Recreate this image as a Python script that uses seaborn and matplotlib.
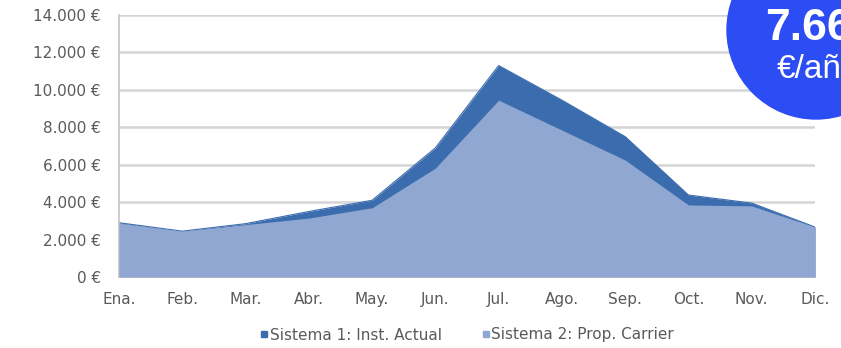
import numpy as np
import pandas as pd
import seaborn as sns
import matplotlib.pyplot as plt
from matplotlib.lines import Line2D
from matplotlib.patches import Circle

sns.set_style('white')
plt.rcParams['font.family'] = ['DejaVu Sans']

months = ['Ena.', 'Feb.', 'Mar.', 'Abr.', 'May.', 'Jun.', 'Jul.', 'Ago.', 'Sep.', 'Oct.', 'Nov.', 'Dic.']
sistema_1 = [2900, 2450, 2850, 3500, 4100, 6900, 11300, 9450, 7500, 4380, 3950, 2670]
sistema_2 = [2880, 2450, 2800, 3150, 3700, 5820, 9450, 7850, 6250, 3850, 3800, 2670]
series_names = ['Sistema 1: Inst. Actual', 'Sistema 2: Prop. Carrier']
y_ticks = [0, 2000, 4000, 6000, 8000, 10000, 12000, 14000]
badge_value = '7.66'
badge_unit = '€/año'

DARK = '#3b6cae'
LIGHT = '#8fa7d1'
TEXT = '#5a5a5a'
GRID = '#d4d4d4'

df = pd.DataFrame({'Mes': months, 'S1': sistema_1, 'S2': sistema_2})
x = np.arange(len(df))

fig = plt.figure(figsize=(8.41, 3.48), dpi=100)
ax = fig.add_axes([119 / 841, 1 - 277 / 348, (815 - 119) / 841, (277 - 15) / 348])

ax.fill_between(x, 0, df['S1'], color=DARK, linewidth=0, zorder=2)
ax.fill_between(x, 0, df['S2'], color=LIGHT, linewidth=0, zorder=3)
sns.lineplot(x=x, y=df['S1'], ax=ax, color=DARK, linewidth=0.8, zorder=2)

ax.set_xlim(0, len(df) - 1)
ax.set_ylim(0, 14000)
ax.set_yticks(y_ticks)
ax.set_yticklabels([f'{v:,.0f} €'.replace(',', '.') for v in y_ticks])
ax.set_xticks(x)
ax.set_xticklabels(df['Mes'])
ax.yaxis.grid(True, color=GRID, linewidth=1.8, zorder=1)
ax.set_axisbelow(True)
ax.set_xlabel('')
ax.set_ylabel('')

for side in ['top', 'right']:
    ax.spines[side].set_visible(False)
for side in ['left', 'bottom']:
    ax.spines[side].set_color('#c4c4c4')
    ax.spines[side].set_linewidth(1.2)

ax.tick_params(axis='y', length=3, width=1.5, color='#c4c4c4', labelsize=11, labelcolor=TEXT, pad=10)
ax.tick_params(axis='x', length=3, width=1.2, color='#dddddd', labelsize=11, labelcolor=TEXT, pad=8)

handles = [Line2D([], [], marker='s', linestyle='', markersize=5, color=DARK),
           Line2D([], [], marker='s', linestyle='', markersize=5, color=LIGHT)]
fig.legend(handles, series_names, loc='center', bbox_to_anchor=(467 / 841, 1 - 335 / 348),
           ncol=2, frameon=False, fontsize=11, labelcolor=TEXT, handletextpad=0.05,
           columnspacing=2.6, handlelength=0.6)

# badge in the top-right corner, partly cut off by the edge like in the source
badge = Circle((8.16, 3.48 - 0.30), 0.89, transform=fig.dpi_scale_trans,
               color='#2c4cf4', zorder=10, clip_on=False)
fig.add_artist(badge)
fig.text(765 / 841, 1 - 40 / 348, badge_value, color='white', fontsize=32, fontweight='bold',
         family='Liberation Sans', ha='left', va='baseline', zorder=11)
fig.text(777 / 841, 1 - 78 / 348, badge_unit, color='white', fontsize=24,
         family='Liberation Sans', ha='left', va='baseline', zorder=11)

fig.savefig('out.png', dpi=100)
